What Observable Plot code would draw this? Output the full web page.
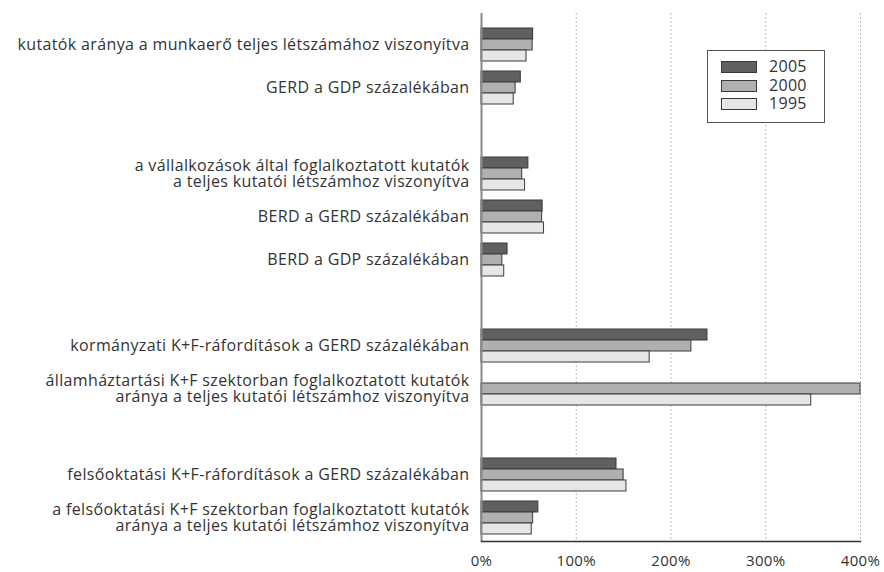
<!DOCTYPE html>
<html><head><meta charset="utf-8">
<script src="https://cdn.jsdelivr.net/npm/d3@7"></script>
<script src="https://cdn.jsdelivr.net/npm/@observablehq/plot@0.6"></script>
<style>
body{margin:0;background:#fff;font-family:"Open Sans",sans-serif;}
#wrap{position:relative;width:884px;height:572px;overflow:hidden}
#legend{position:absolute;left:707px;top:50px;width:118px;height:73px;border:1.5px solid #555;background:#fff;box-sizing:border-box}
.item{position:absolute;left:13px;height:12px;font-size:16px;letter-spacing:0.3px;color:#333;line-height:12px}
.sw{position:absolute;left:0;top:0;width:34px;height:10px;border:1px solid #3a3a3a}
.lab{position:absolute;left:48px;top:-1px;white-space:nowrap}
</style></head><body><div id="wrap"></div>
<script>
const categories = [
  "kutatók aránya a munkaerő teljes létszámához viszonyítva",
  "GERD a GDP százalékában",
  "a vállalkozások által foglalkoztatott kutatók\na teljes kutatói létszámhoz viszonyítva",
  "BERD a GERD százalékában",
  "BERD a GDP százalékában",
  "kormányzati K+F-ráfordítások a GERD százalékában",
  "államháztartási K+F szektorban foglalkoztatott kutatók\naránya a teljes kutatói létszámhoz viszonyítva",
  "felsőoktatási K+F-ráfordítások a GERD százalékában",
  "a felsőoktatási K+F szektorban foglalkoztatott kutatók\naránya a teljes kutatói létszámhoz viszonyítva"
];
const gapsBefore = [2, 5, 7];
const years = ["2005", "2000", "1995"];
const values2005 = [54.5, 41.5, 49.5, 64.5, 27.5, 238.5, null, 142.5, 60];
const values2000 = [54, 36, 43, 64, 22, 221.5, 400, 150, 54.5];
const values1995 = [47.5, 34, 46, 66, 24, 177.5, 348, 153, 53];
const yearColors = ["#606060", "#b0b0b0", "#e6e6e6"];
const xTicks = [0, 100, 200, 300, 400];

const series = [values2005, values2000, values1995];
const yDomain = [];
categories.forEach((c, i) => {
  if (gapsBefore.includes(i)) yDomain.push("gap" + i);
  yDomain.push(c);
});
const data = [];
years.forEach((yr, k) => categories.forEach((c, i) => {
  if (series[k][i] != null) data.push({category: c, year: yr, value: series[k][i]});
}));
const offsets = [-11, 0, 11];

const chart = Plot.plot({
  width: 884, height: 572,
  marginLeft: 481, marginRight: 24, marginTop: 13, marginBottom: 31,
  style: {fontFamily: "'Open Sans', sans-serif", fontSize: "16px", letterSpacing: "0.35px", color: "#333", background: "#fff"},
  x: {domain: [0, 400], label: null},
  y: {type: "band", domain: yDomain, paddingInner: 0.74, paddingOuter: 0.44, align: 0.585, label: null},
  marks: [
    Plot.ruleX(xTicks.slice(1), {stroke: "#bbb", strokeDasharray: "2,2"}),
    ...years.map((yr, k) => Plot.barX(data.filter(d => d.year === yr), {
      x: "value", y: "category", fill: yearColors[k], stroke: "#3a3a3a", strokeWidth: 1, dy: offsets[k]
    })),
    Plot.ruleX([0], {stroke: "#888", strokeWidth: 2}),
    Plot.frame({anchor: "bottom", stroke: "#333", strokeWidth: 1.5}),
    Plot.axisY({label: null, tickSize: 0, tickPadding: 12, lineHeight: 0.98, tickFormat: d => d.startsWith("gap") ? "" : d}),
    Plot.axisX({label: null, ticks: xTicks, tickFormat: d => d + "%", tickSize: 0, tickPadding: 14, fontSize: 15})
  ]
});
const wrap = document.getElementById("wrap");
wrap.appendChild(chart);
const legend = document.createElement("div");
legend.id = "legend";
years.forEach((yr, k) => {
  const it = document.createElement("div");
  it.className = "item";
  it.style.top = (10 + k * 18.5) + "px";
  it.innerHTML = `<div class="sw" style="background:${yearColors[k]}"></div><span class="lab">${yr}</span>`;
  legend.appendChild(it);
});
wrap.appendChild(legend);
</script></body></html>
